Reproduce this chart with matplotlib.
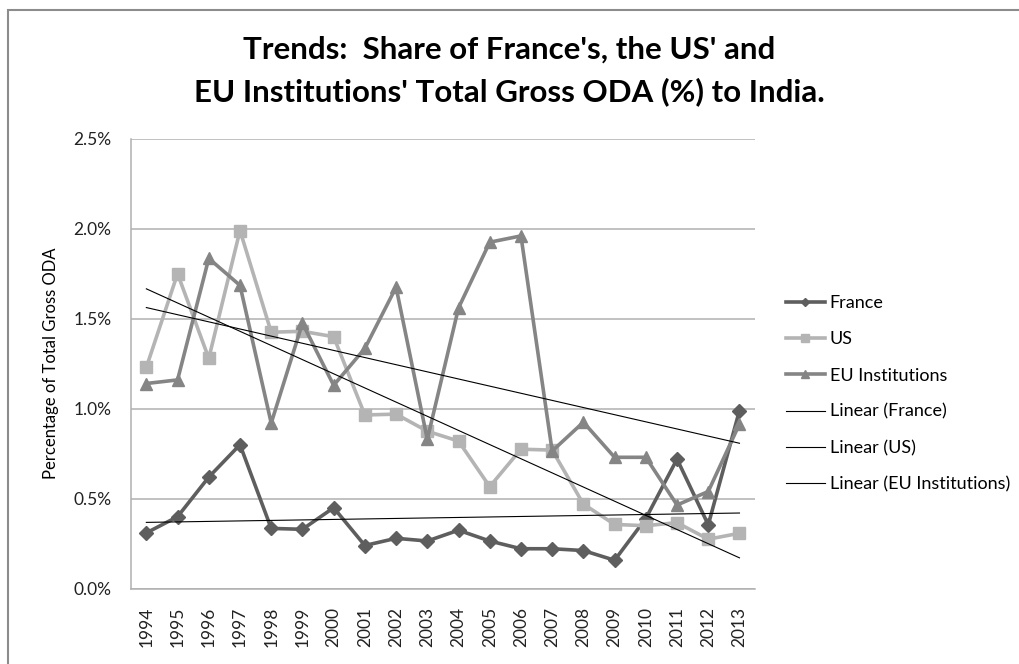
import numpy as np
import matplotlib
matplotlib.use("Agg")
import matplotlib.pyplot as plt
from matplotlib.patches import Rectangle

plt.rcParams['font.family'] = ['Lato', 'DejaVu Sans']

years = [str(y) for y in range(1994, 2014)]

# share of total gross ODA to India, in %
france = [0.31, 0.40, 0.62, 0.80, 0.335, 0.33, 0.45, 0.24, 0.28, 0.265, 0.325, 0.265,
          0.222, 0.222, 0.212, 0.158, 0.39, 0.72, 0.355, 0.99]
us = [1.23, 1.75, 1.28, 1.99, 1.425, 1.43, 1.40, 0.965, 0.97, 0.875, 0.82, 0.567,
      0.775, 0.77, 0.47, 0.357, 0.35, 0.367, 0.275, 0.308]
eu = [1.14, 1.16, 1.835, 1.685, 0.92, 1.475, 1.13, 1.335, 1.675, 0.83, 1.56, 1.925,
      1.96, 0.765, 0.925, 0.73, 0.73, 0.465, 0.54, 0.915]

names = ["France", "US", "EU Institutions"]
colors = ["#5e5e5e", "#b4b4b4", "#858585"]
markers = ["D", "s", "^"]
msizes = [7, 8.5, 9]

fig = plt.figure(figsize=(10.19, 6.64), dpi=100)
ax = fig.add_axes([0.1283, 0.1134, 0.6127, 0.6777])

x = np.arange(len(years))
handles = []
for i, (vals, name) in enumerate(zip([france, us, eu], names)):
    h, = ax.plot(x, vals, color=colors[i], marker=markers[i], markersize=msizes[i],
                 linewidth=2.6, label=name, zorder=3 + i)
    handles.append(h)

# linear trendlines
for vals, name in zip([france, us, eu], names):
    k, b = np.polyfit(x, vals, 1)
    h, = ax.plot(x, k * x + b, color="black", linewidth=0.8,
                 label="Linear (" + name + ")", zorder=7)
    handles.append(h)

ax.set_xlim(-0.5, len(years) - 0.5)
ax.set_ylim(0, 2.5)
ax.set_yticks([0, 0.5, 1.0, 1.5, 2.0, 2.5])
ax.set_yticklabels(["%.1f%%" % v for v in [0, 0.5, 1.0, 1.5, 2.0, 2.5]])
ax.set_xticks(x)
ax.set_xticklabels(years, rotation=90)
ax.tick_params(axis="both", length=0, labelsize=12.5, colors="#222222")
ax.tick_params(axis="x", pad=13)
ax.tick_params(axis="y", pad=14)
ax.yaxis.grid(True, color="#b0b0b0", linewidth=1.1)
ax.set_axisbelow(True)
for s in ["top", "right"]:
    ax.spines[s].set_visible(False)
for s in ["left", "bottom"]:
    ax.spines[s].set_color("#b0b0b0")
    ax.spines[s].set_linewidth(1.1)

ax.set_ylabel("Percentage of Total Gross ODA", fontsize=12, labelpad=10)

fig.text(0.5, 0.893, "Trends:  Share of France's, the US' and\nEU Institutions' Total Gross ODA (%) to India.",
         ha="center", va="center", fontsize=22.5, fontweight="bold", linespacing=1.55)

leg = ax.legend(handles=handles, loc="upper left", bbox_to_anchor=(0.755, 0.58),
                bbox_transform=fig.transFigure, frameon=False, fontsize=13,
                handlelength=2.2, handletextpad=0.25, labelspacing=1.12, markerscale=0.6)

# outer chart border
fig.patches.append(Rectangle((8 / 1019, -0.1), 1.2, 1 - 10 / 664 + 0.1, transform=fig.transFigure,
                             fill=False, edgecolor="#8c8c8c", linewidth=1.5))

fig.savefig("out.png", dpi=100)
